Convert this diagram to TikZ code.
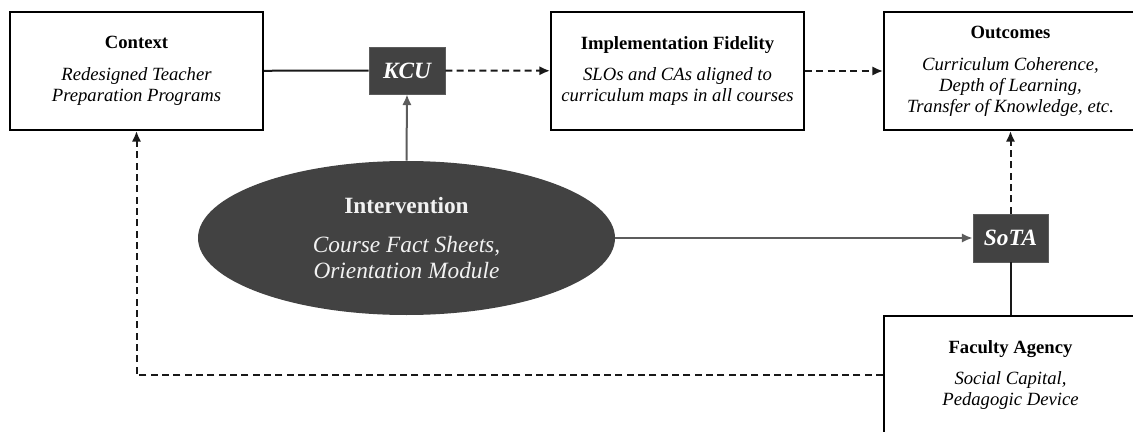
\documentclass[tikz,border=0pt]{standalone}
\usepackage{fontspec}
\setmainfont{Liberation Serif}
\usepackage{tikz}
\usetikzlibrary{positioning,calc,arrows.meta,shapes.geometric}

\definecolor{darkfill}{HTML}{424242}
\definecolor{linkgray}{HTML}{5C5C5C}
\definecolor{softwhite}{HTML}{F2F2F2}

\tikzset{
	box/.style={draw=black, line width=1.5pt, fill=white, minimum width=189.75pt,
		minimum height=88.5pt, inner sep=0pt, align=center,
		font=\fontsize{14}{15.75}\selectfont},
	darkbox/.style={draw=linkgray, line width=0.6pt, fill=darkfill, text=white,
		inner sep=0pt, font=\fontsize{17.5}{20}\selectfont\bfseries\itshape},
	oval/.style={ellipse, fill=darkfill, text=softwhite, inner sep=0pt,
		minimum width=312.75pt, minimum height=115.5pt, align=center,
		font=\fontsize{17.5}{19.5}\selectfont},
	link/.style={line width=1.5pt, draw=black!90},
	graylink/.style={line width=1.5pt, draw=linkgray},
	dashlink/.style={line width=1.5pt, draw=black!90, dash pattern=on 5.25pt off 3.25pt},
	tip/.style={-{Latex[length=8pt,width=7pt]}}
}

\begin{document}
\begin{tikzpicture}[x=0.75pt, y=-0.75pt]
	\useasboundingbox (0,0) rectangle (1133,432);
	\node[box] (context) at (136.5,71) {\textbf{Context}\\[8pt]
		\textit{Redesigned Teacher}\\ \textit{Preparation Programs}};
	\node[box] (fidelity) at (677.5,71) {\textbf{Implementation Fidelity}\\[8pt]
		\textit{SLOs and CAs aligned to}\\ \textit{curriculum maps in all courses}};
	\node[box] (outcomes) at (1010.5,71) {\textbf{Outcomes}\\[8pt]
		\textit{Curriculum Coherence,}\\ \textit{Depth of Learning,}\\
		\textit{Transfer of Knowledge, etc.}};
	\node[darkbox, minimum width=57pt, minimum height=35.25pt] (kcu) at (407,70.5) {KCU};
	\node[oval] (intervention) at (406.5,238) {\textbf{Intervention}\\[9.75pt]
		\textit{Course Fact Sheets,}\\ \textit{Orientation Module}};
	\node[darkbox, minimum width=56.25pt, minimum height=36pt] (sota) at (1010.5,238) {SoTA};
	\node[box] (agency) at (1010.5,375) {\textbf{Faculty Agency}\\[8pt]
		\textit{Social Capital,}\\ \textit{Pedagogic Device}};

	% links
	\draw[link] (context) -- (kcu);
	\draw[dashlink, tip] (kcu) -- (fidelity);
	\draw[dashlink, tip] (fidelity) -- (outcomes);
	\draw[graylink, tip] (intervention.north) -- (kcu.south);
	\draw[graylink, tip] (intervention.east) -- (sota.west);
	\draw[dashlink, tip] (sota.north) -- (outcomes.south);
	\draw[link] (sota.south) -- (agency.north);
	\draw[dashlink, tip] (agency.west) -| (context.south);
\end{tikzpicture}
\end{document}
